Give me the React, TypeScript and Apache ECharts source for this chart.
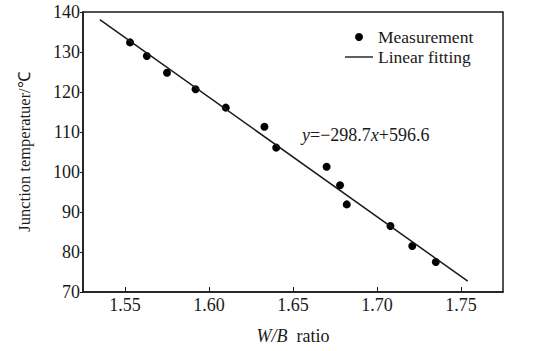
import React, { useEffect, useRef } from "react";
import * as echarts from "echarts";

const wbRatio = [1.553, 1.563, 1.575, 1.592, 1.61, 1.633, 1.64, 1.67, 1.678, 1.682, 1.708, 1.721, 1.735];
const junctionTemp = [132.4, 129.0, 124.8, 120.7, 116.1, 111.3, 106.1, 101.3, 96.7, 91.9, 86.5, 81.5, 77.5];
const fitX = [1.535, 1.754];
const fitY = [138.1, 72.7];
const xTicks = [1.55, 1.6, 1.65, 1.7, 1.75];
const seriesNames = ["Measurement", "Linear fitting"];
const equationText = "{i|y}=\u2212298.7{i|x}+596.6";

const FONT = "'Liberation Serif', 'Times New Roman', serif";
const INK = "#1a1a1a";

export default function App() {
  const ref = useRef<HTMLDivElement>(null);
  useEffect(() => {
    document.body.style.margin = "0";
    const chart = echarts.init(ref.current!, undefined, { renderer: "svg" });
    chart.setOption({
      animation: false,
      backgroundColor: "#ffffff",
      textStyle: { fontFamily: FONT, color: INK },
      grid: {
        left: 83,
        top: 12,
        right: 36,
        bottom: 59,
        show: true,
        borderColor: INK,
        borderWidth: 1.5,
        backgroundColor: "transparent",
      },
      legend: {
        orient: "vertical",
        left: 340,
        top: 22,
        itemWidth: 28,
        itemHeight: 8,
        itemGap: 0,
        data: [
          { name: seriesNames[0], icon: "circle" },
          { name: seriesNames[1], icon: "path://M0,0 L28,0 L28,1.4 L0,1.4 Z" },
        ],
        textStyle: { fontFamily: FONT, fontSize: 17.5, color: INK, lineHeight: 20 },
      },
      xAxis: {
        type: "value",
        min: 1.525,
        max: 1.775,
        name: "{i|W/B}  ratio",
        nameLocation: "middle",
        nameGap: 35,
        nameTextStyle: {
          fontFamily: FONT,
          fontSize: 18,
          color: INK,
          rich: { i: { fontStyle: "italic", fontFamily: FONT, fontSize: 18, color: INK } },
        },
        axisLine: { lineStyle: { color: INK, width: 1.5 } },
        axisTick: { inside: true, length: 5, customValues: xTicks, lineStyle: { color: INK, width: 1 } },
        axisLabel: {
          customValues: xTicks,
          formatter: (v: number) => v.toFixed(2),
          fontFamily: FONT,
          fontSize: 18,
          color: INK,
          margin: 4,
        },
        splitLine: { show: false },
      },
      yAxis: {
        type: "value",
        min: 70,
        max: 140,
        interval: 10,
        name: "Junction temperatuer/\u2103",
        nameLocation: "middle",
        nameGap: 50,
        nameTextStyle: { fontFamily: FONT, fontSize: 16.5, color: INK },
        axisLine: { lineStyle: { color: INK, width: 1.5 } },
        axisTick: { inside: false, length: 3, lineStyle: { color: INK, width: 1 } },
        axisLabel: { fontFamily: FONT, fontSize: 18, color: INK, margin: 3 },
        splitLine: { show: false },
      },
      graphic: [
        {
          type: "text",
          left: 302,
          top: 126,
          style: {
            text: equationText,
            font: `18px ${FONT}`,
            fill: INK,
            rich: { i: { fontStyle: "italic", fontFamily: FONT, fontSize: 18, fill: INK } },
          },
        },
      ],
      series: [
        {
          name: seriesNames[0],
          type: "scatter",
          symbol: "circle",
          symbolSize: 8,
          itemStyle: { color: "#000", opacity: 1 },
          data: wbRatio.map((x, i) => [x, junctionTemp[i]]),
        },
        {
          name: seriesNames[1],
          type: "line",
          symbol: "none",
          lineStyle: { color: INK, width: 1.5 },
          itemStyle: { color: INK },
          data: fitX.map((x, i) => [x, fitY[i]]),
        },
      ],
    });
    return () => chart.dispose();
  }, []);
  return <div ref={ref} style={{ width: 539, height: 351 }} />;
}
